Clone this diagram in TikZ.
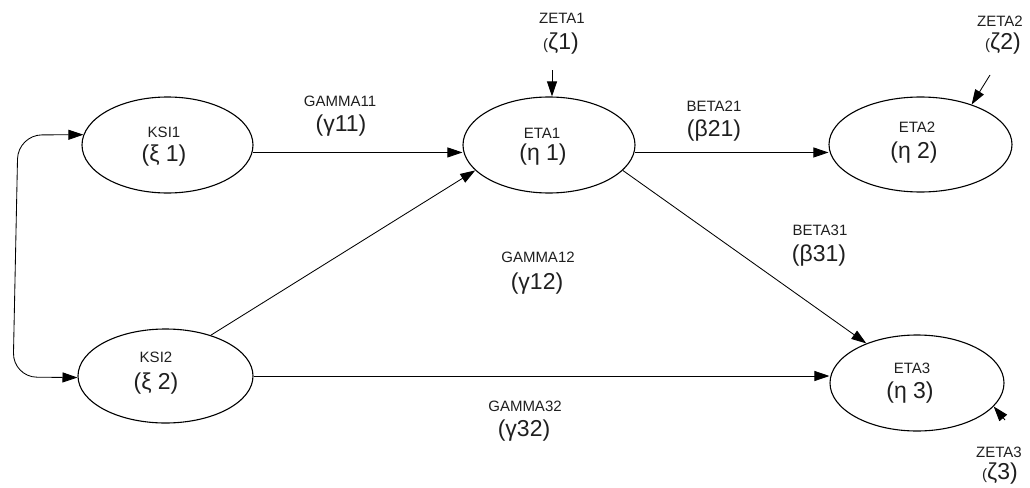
\documentclass[tikz,border=0pt]{standalone}
\usepackage{fontspec}
\setmainfont{Liberation Sans}
\usetikzlibrary{shapes.geometric,arrows.meta}
\begin{document}
\begin{tikzpicture}[x=1pt,y=-1pt,
  latent/.style={ellipse,draw,line width=1.1pt,inner sep=0pt},
  tip/.tip={Triangle[length=15pt,width=10pt]},
  conn/.style={line width=0.85pt,-tip},
  small/.style={font=\fontsize{15}{17}\selectfont,anchor=base,inner sep=0pt,text=black!88},
  big/.style={font=\fontsize{23}{26}\selectfont,anchor=base,inner sep=0pt,text=black!88}]
\useasboundingbox (0,0) rectangle (1030,487);

% latent variables
\node[latent,minimum width=171pt,minimum height=96pt] (ksi1) at (167.5,145) {};
\node[latent,minimum width=175pt,minimum height=94pt] (ksi2) at (165.5,376) {};
\node[latent,minimum width=172pt,minimum height=96pt] (eta1) at (549,145) {};
\node[latent,minimum width=183pt,minimum height=95pt] (eta2) at (920.5,144.5) {};
\node[latent,minimum width=174pt,minimum height=96pt] (eta3) at (917,383) {};

% names inside the ellipses
\node[small] (ksi1a) at (164,137) {KSI1};
\node[big]   (ksi1b) at (164,161) {(ξ 1)};
\node[small] (ksi2a) at (156,362) {KSI2};
\node[big]   (ksi2b) at (156,389) {(ξ 2)};
\node[small] (eta1a) at (542,138) {ETA1};
\node[big]   (eta1b) at (543,160) {(η 1)};
\node[small] (eta2a) at (917,132) {ETA2};
\node[big]   (eta2b) at (914,158) {(η 2)};
\node[small] (eta3a) at (912,373) {ETA3};
\node[big]   (eta3b) at (910,398) {(η 3)};

% path coefficients
\node[small] (g11a) at (340,106) {GAMMA11};
\node[big]   (g11b) at (341,131) {(γ11)};
\node[small] (b21a) at (714,111) {BETA21};
\node[big]   (b21b) at (714,136) {(β21)};
\node[small] (b31a) at (820,235) {BETA31};
\node[big]   (b31b) at (819,261) {(β31)};
\node[small] (g12a) at (538,262) {GAMMA12};
\node[big]   (g12b) at (537,289) {(γ12)};
\node[small] (g32a) at (525,411) {GAMMA32};
\node[big]   (g32b) at (524,436) {(γ32)};

% disturbances
\node[small] (z1a) at (562,24) {ZETA1};
\node[big]   (z1b) at (561,49) {{\fontsize{15}{17}\selectfont(}ζ1)};
\node[small] (z2a) at (1000,27) {ZETA2};
\node[big]   (z2b) at (1003,49) {{\fontsize{15}{17}\selectfont(}ζ2)};
\node[small] (z3a) at (999,457) {ZETA3};
\node[big]   (z3b) at (1000,479) {{\fontsize{15}{17}\selectfont(}ζ3)};

\coordinate (z1) at (552,70);
\coordinate (z2) at (990,75);
\coordinate (z3) at (1005,420);
\coordinate (bendtop) at (18,135);
\coordinate (bendbot) at (13,377);

% structural paths
\draw[conn] (ksi1.-5) -- (ksi1.-5 -| eta1.west);
\draw[conn] (ksi2.42) -- (eta1.199);
\draw[conn] (eta1.-5) -- (eta1.-5 -| eta2.west);
\draw[conn] (eta1.-19) -- (eta3.142);
\draw[conn] (ksi2.east) -- (ksi2.east -| eta3.west);

% covariance between the exogenous variables
\draw[line width=0.85pt,tip-tip,rounded corners=24pt]
  (ksi1.173) -- (bendtop) -- (bendbot) -- (ksi2.181);

% disturbance arrows
\draw[conn] (z1) -- (z1 |- eta1.north);
\draw[conn] (z2) -- (eta2.38);
\draw[conn] (z3) -- (eta3.-17);
\end{tikzpicture}
\end{document}
